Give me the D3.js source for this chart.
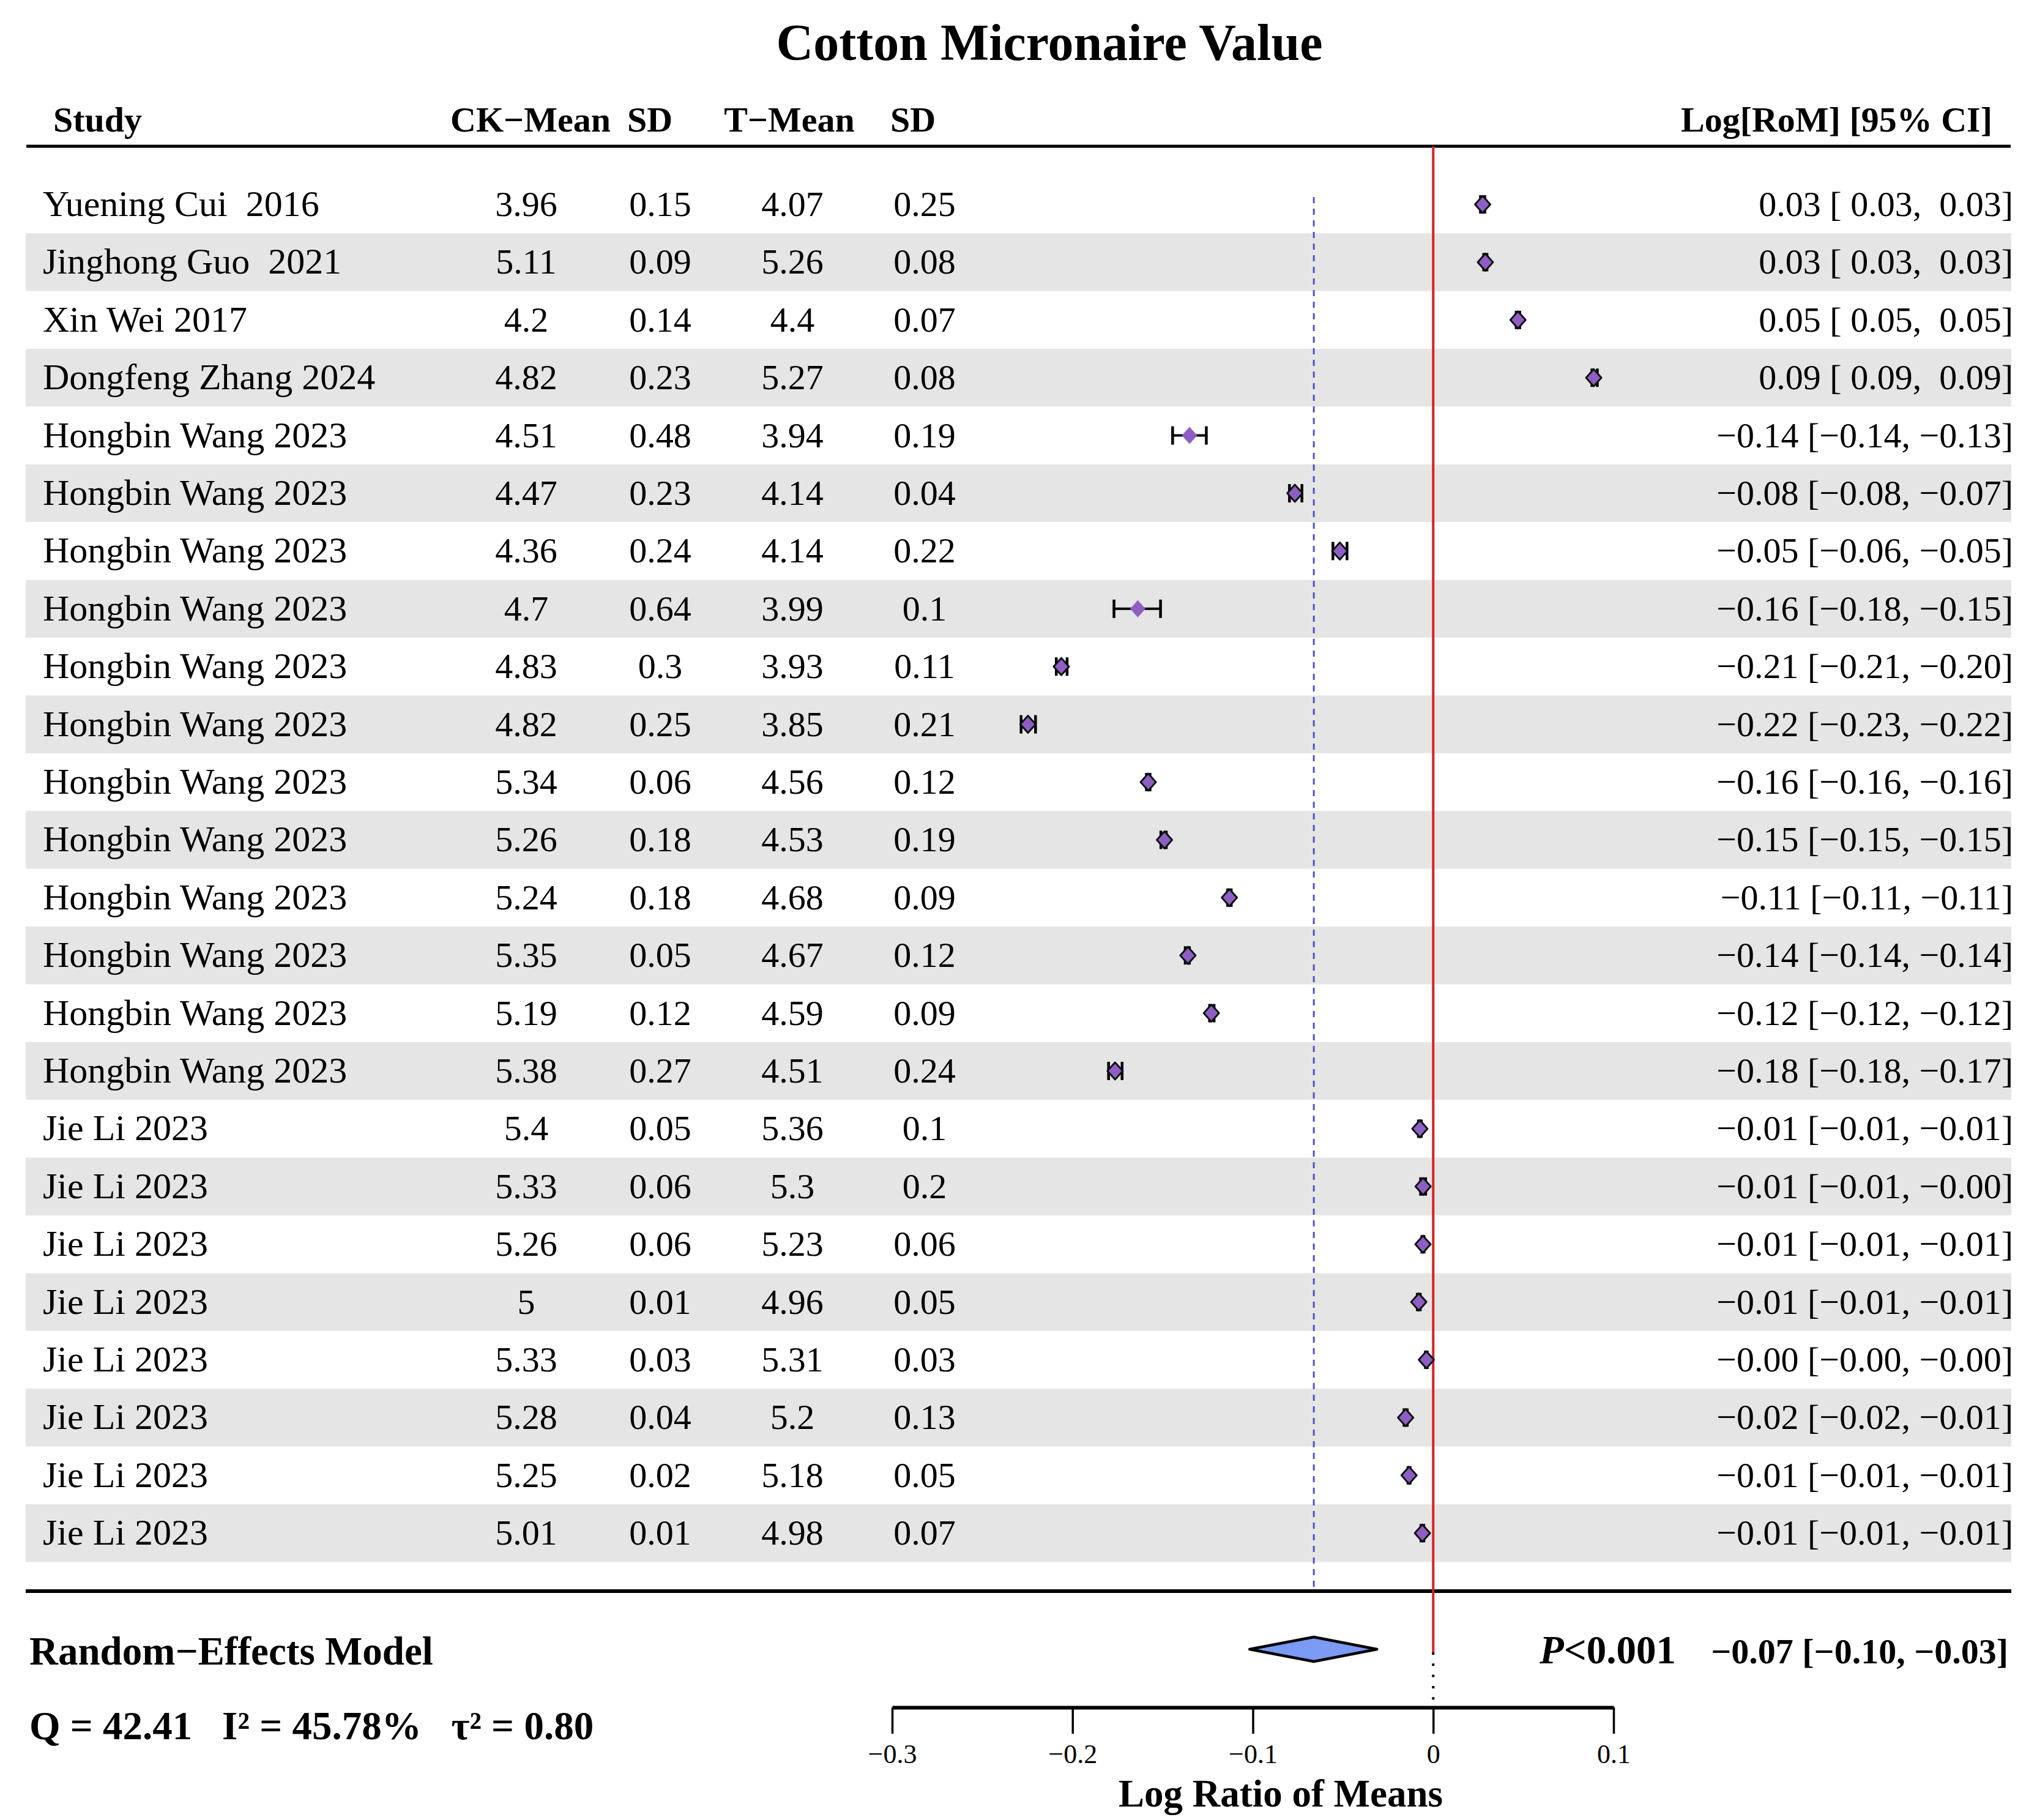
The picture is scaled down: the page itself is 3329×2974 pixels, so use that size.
<!DOCTYPE html>
<html>
<head>
<meta charset="utf-8">
<script src="https://cdn.jsdelivr.net/npm/d3@7"></script>
<style>
  body { margin: 0; background: #fff; }
  text { font-family: "Liberation Serif", "Times New Roman", serif; white-space: pre; }
</style>
</head>
<body>
<div id="target"></div>
<script>
// data
var studies = ['Yuening Cui  2016', 'Jinghong Guo  2021', 'Xin Wei 2017', 'Dongfeng Zhang 2024',
  'Hongbin Wang 2023', 'Hongbin Wang 2023', 'Hongbin Wang 2023', 'Hongbin Wang 2023',
  'Hongbin Wang 2023', 'Hongbin Wang 2023', 'Hongbin Wang 2023', 'Hongbin Wang 2023',
  'Hongbin Wang 2023', 'Hongbin Wang 2023', 'Hongbin Wang 2023', 'Hongbin Wang 2023',
  'Jie Li 2023', 'Jie Li 2023', 'Jie Li 2023', 'Jie Li 2023',
  'Jie Li 2023', 'Jie Li 2023', 'Jie Li 2023', 'Jie Li 2023'];
var ckMean = ['3.96', '5.11', '4.2', '4.82', '4.51', '4.47', '4.36', '4.7', '4.83', '4.82', '5.34', '5.26',
  '5.24', '5.35', '5.19', '5.38', '5.4', '5.33', '5.26', '5', '5.33', '5.28', '5.25', '5.01'];
var ckSD = ['0.15', '0.09', '0.14', '0.23', '0.48', '0.23', '0.24', '0.64', '0.3', '0.25', '0.06', '0.18',
  '0.18', '0.05', '0.12', '0.27', '0.05', '0.06', '0.06', '0.01', '0.03', '0.04', '0.02', '0.01'];
var tMean = ['4.07', '5.26', '4.4', '5.27', '3.94', '4.14', '4.14', '3.99', '3.93', '3.85', '4.56', '4.53',
  '4.68', '4.67', '4.59', '4.51', '5.36', '5.3', '5.23', '4.96', '5.31', '5.2', '5.18', '4.98'];
var tSD = ['0.25', '0.08', '0.07', '0.08', '0.19', '0.04', '0.22', '0.1', '0.11', '0.21', '0.12', '0.19',
  '0.09', '0.12', '0.09', '0.24', '0.1', '0.2', '0.06', '0.05', '0.03', '0.13', '0.05', '0.07'];
// log ratio of means and 95% CI
var est = [0.0274, 0.0289, 0.047, 0.089, -0.1351, -0.0767, -0.0518, -0.1638, -0.2062, -0.2247, -0.158, -0.149,
  -0.113, -0.136, -0.123, -0.1764, -0.0074, -0.0056, -0.0057, -0.008, -0.0038, -0.0153, -0.0134, -0.006];
var lower = [0.0262, 0.028, 0.046, 0.088, -0.1445, -0.0797, -0.0556, -0.177, -0.209, -0.2285, -0.159, -0.151,
  -0.114, -0.1375, -0.124, -0.18, -0.0082, -0.007, -0.0063, -0.0088, -0.0043, -0.0162, -0.014, -0.0068];
var upper = [0.0286, 0.0298, 0.048, 0.091, -0.1258, -0.0728, -0.0478, -0.1512, -0.203, -0.2205, -0.157, -0.148,
  -0.112, -0.1352, -0.1215, -0.1725, -0.0066, -0.0042, -0.0051, -0.0072, -0.0033, -0.0144, -0.0128, -0.0052];
var pooled = { est: -0.0662, lower: -0.1018, upper: -0.0312 };
var tickValues = [-0.3, -0.2, -0.1, 0, 0.1];

var W = 3329, H = 2974;
var svg = d3.select('#target').append('svg')
  .attr('width', W).attr('height', H);
svg.append('rect').attr('width', W).attr('height', H).attr('fill', '#fff');

var x = d3.scaleLinear().domain([-0.3, 0.1]).range([1458, 2637]);
var y = d3.scaleBand().domain(d3.range(studies.length)).range([286.8, 286.8 + 94.4 * studies.length]);
var rowMid = function(i) { return y(i) + y.bandwidth() / 2; };

function fmt(v, pad) {
  var s = Math.abs(v).toFixed(2);
  return v < 0 ? '\u2212' + s : (pad ? ' ' + s : s);
}

// zebra bands
svg.selectAll('rect.band')
  .data(d3.range(studies.length).filter(function(i) { return i % 2 === 1; }))
  .enter().append('rect')
  .attr('class', 'band')
  .attr('x', 42).attr('width', 3287 - 42)
  .attr('y', function(i) { return y(i); })
  .attr('height', y.bandwidth())
  .attr('fill', '#e5e5e5');

// title
svg.append('text').attr('x', 1715).attr('y', 98)
  .attr('text-anchor', 'middle').attr('font-size', 84).attr('font-weight', 'bold')
  .text('Cotton Micronaire Value');

// header
var headers = [
  { t: 'Study', x: 87, a: 'start' },
  { t: 'CK\u2212Mean', x: 867, a: 'middle' },
  { t: 'SD', x: 1062, a: 'middle' },
  { t: 'T\u2212Mean', x: 1290, a: 'middle' },
  { t: 'SD', x: 1492, a: 'middle' },
  { t: 'Log[RoM] [95% CI]', x: 3256, a: 'end' }
];
svg.selectAll('text.head').data(headers).enter().append('text')
  .attr('class', 'head')
  .attr('x', function(d) { return d.x; }).attr('y', 215)
  .attr('text-anchor', function(d) { return d.a; })
  .attr('font-size', 58).attr('font-weight', 'bold')
  .text(function(d) { return d.t; });

svg.append('line').attr('x1', 43).attr('x2', 3286).attr('y1', 239).attr('y2', 239)
  .attr('stroke', '#000').attr('stroke-width', 5);
svg.append('line').attr('x1', 42).attr('x2', 3287).attr('y1', 2600).attr('y2', 2600)
  .attr('stroke', '#000').attr('stroke-width', 6);

// table columns
var cols = [
  { vals: studies, x: 70, a: 'start', fs: 60 },
  { vals: ckMean, x: 860, a: 'middle', fs: 58 },
  { vals: ckSD, x: 1079, a: 'middle', fs: 58 },
  { vals: tMean, x: 1295, a: 'middle', fs: 58 },
  { vals: tSD, x: 1511, a: 'middle', fs: 58 }
];
cols.forEach(function(c) {
  svg.append('g').selectAll('text').data(c.vals).enter().append('text')
    .attr('x', c.x)
    .attr('y', function(d, i) { return rowMid(i) + 19; })
    .attr('text-anchor', c.a)
    .attr('font-size', c.fs)
    .text(function(d) { return d; });
});

svg.append('g').selectAll('text').data(est).enter().append('text')
  .attr('x', 3290)
  .attr('y', function(d, i) { return rowMid(i) + 19; })
  .attr('text-anchor', 'end')
  .attr('font-size', 58)
  .text(function(d, i) { return fmt(d) + ' [' + fmt(lower[i], true) + ', ' + fmt(upper[i], true) + ']'; });

// reference lines
svg.append('line')
  .attr('x1', x(pooled.est)).attr('x2', x(pooled.est)).attr('y1', 322).attr('y2', 2600)
  .attr('stroke', '#5252c6').attr('stroke-width', 3).attr('stroke-dasharray', '10 9');
svg.append('line')
  .attr('x1', x(0)).attr('x2', x(0)).attr('y1', 239).attr('y2', 2700)
  .attr('stroke', '#d42424').attr('stroke-width', 4);
svg.append('line')
  .attr('x1', x(0)).attr('x2', x(0)).attr('y1', 2700).attr('y2', 2780)
  .attr('stroke', '#000').attr('stroke-width', 4).attr('stroke-dasharray', '4 14.3');

// confidence intervals
var ci = svg.append('g').selectAll('g').data(est).enter().append('g');
ci.append('line')
  .attr('x1', function(d, i) { return x(lower[i]); })
  .attr('x2', function(d, i) { return x(upper[i]); })
  .attr('y1', function(d, i) { return rowMid(i); })
  .attr('y2', function(d, i) { return rowMid(i); })
  .attr('stroke', '#000').attr('stroke-width', 4);
[lower, upper].forEach(function(arr) {
  ci.append('line')
    .attr('x1', function(d, i) { return x(arr[i]); })
    .attr('x2', function(d, i) { return x(arr[i]); })
    .attr('y1', function(d, i) { return rowMid(i) - 15; })
    .attr('y2', function(d, i) { return rowMid(i) + 15; })
    .attr('stroke', '#000').attr('stroke-width', 4.5);
});
ci.append('path')
  .attr('d', function(d, i) {
    var cx = x(d), cy = rowMid(i);
    return 'M' + (cx - 12.5) + ',' + cy + 'L' + cx + ',' + (cy - 14) + 'L' + (cx + 12.5) + ',' + cy + 'L' + cx + ',' + (cy + 14) + 'Z';
  })
  .attr('fill', '#8e5ec4')
  .attr('stroke', function(d, i) { return (x(upper[i]) - x(lower[i])) < 30 ? '#111' : 'none'; })
  .attr('stroke-width', 3)
  .attr('stroke-linejoin', 'round');

// pooled estimate
svg.append('text').attr('x', 48).attr('y', 2720)
  .attr('font-size', 65).attr('font-weight', 'bold')
  .text('Random\u2212Effects Model');
var dy = 2695;
svg.append('path')
  .attr('d', 'M' + x(pooled.lower) + ',' + dy + 'L' + x(pooled.est) + ',' + (dy - 20) +
    'L' + x(pooled.upper) + ',' + dy + 'L' + x(pooled.est) + ',' + (dy + 20) + 'Z')
  .attr('fill', '#7b9af3').attr('stroke', '#000').attr('stroke-width', 4.5)
  .attr('stroke-linejoin', 'round');
var p = svg.append('text').attr('x', 2516).attr('y', 2718)
  .attr('font-size', 65).attr('font-weight', 'bold');
p.append('tspan').attr('font-style', 'italic').text('P');
p.append('tspan').text('<0.001');
svg.append('text').attr('x', 3282).attr('y', 2718)
  .attr('text-anchor', 'end').attr('font-size', 58).attr('font-weight', 'bold')
  .text(fmt(pooled.est) + ' [' + fmt(pooled.lower, true) + ', ' + fmt(pooled.upper, true) + ']');

svg.append('text').attr('x', 48).attr('y', 2842)
  .attr('font-size', 65).attr('font-weight', 'bold')
  .text('Q = 42.41   I\u00b2 = 45.78%   \u03c4\u00b2 = 0.80');

// axis
var axis = svg.append('g').attr('transform', 'translate(0,2790)')
  .call(d3.axisBottom(x).tickValues(tickValues).tickSize(43).tickSizeOuter(0)
    .tickFormat(function(d) { return d === 0 ? '0' : fmt(d).replace(/0$/, '').replace('.00', '.0'); }));
axis.select('.domain').attr('stroke-width', 6);
axis.selectAll('.tick line').attr('stroke-width', 3.5);
axis.selectAll('.tick text')
  .attr('y', 91).attr('dy', 0)
  .attr('font-size', 44)
  .attr('font-family', '"Liberation Serif", "Times New Roman", serif');
svg.append('text').attr('x', 2093).attr('y', 2952)
  .attr('text-anchor', 'middle').attr('font-size', 63).attr('font-weight', 'bold')
  .text('Log Ratio of Means');
</script>
</body>
</html>
